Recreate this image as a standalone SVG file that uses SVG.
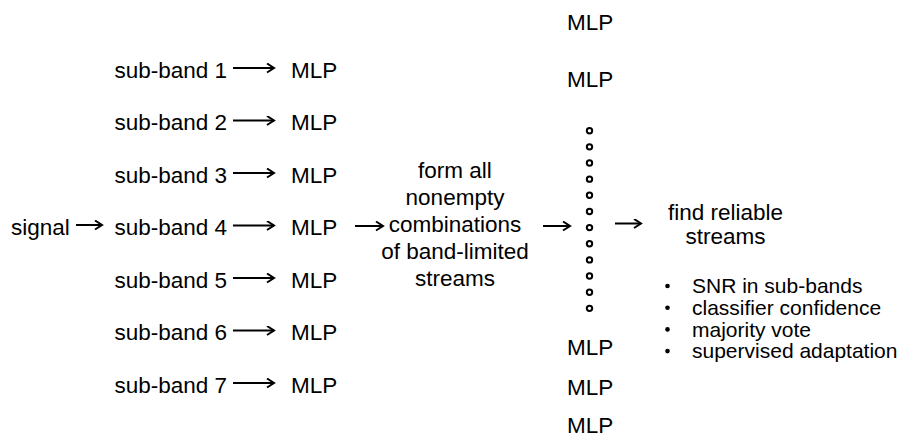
<svg xmlns="http://www.w3.org/2000/svg" width="904" height="436" viewBox="0 0 904 436">
  <style>
    text { font-family: "Liberation Sans", Arial, sans-serif; font-size: 22.5px; fill: #000; }
    .mid { text-anchor: middle; }
    .small { font-size: 21px; }
    .arrow { fill: none; stroke: #000; stroke-width: 2; marker-end: url(#head); }
    .dot { fill: none; stroke: #000; stroke-width: 2; }
  </style>
  <defs>
    <marker id="head" markerUnits="userSpaceOnUse" markerWidth="12" markerHeight="12" refX="8" refY="5" orient="auto">
      <path d="M1,0.5 L8,5 L1,9.5" fill="none" stroke="#000" stroke-width="2"/>
    </marker>
  </defs>

  <!-- input -->
  <g id="signal"><text x="11" y="235">signal</text></g>

  <!-- sub-band labels -->
  <g id="band1"><text x="114.5" y="77.5">sub-band 1</text></g>
  <g id="band2"><text x="114.5" y="130">sub-band 2</text></g>
  <g id="band3"><text x="114.5" y="182.5">sub-band 3</text></g>
  <g id="band4"><text x="114.5" y="235">sub-band 4</text></g>
  <g id="band5"><text x="114.5" y="287.5">sub-band 5</text></g>
  <g id="band6"><text x="114.5" y="340">sub-band 6</text></g>
  <g id="band7"><text x="114.5" y="392.5">sub-band 7</text></g>

  <!-- per-band MLPs -->
  <g id="mlp1"><text x="291" y="77.5">MLP</text></g>
  <g id="mlp2"><text x="291" y="130">MLP</text></g>
  <g id="mlp3"><text x="291" y="182.5">MLP</text></g>
  <g id="mlp4"><text x="291" y="235">MLP</text></g>
  <g id="mlp5"><text x="291" y="287.5">MLP</text></g>
  <g id="mlp6"><text x="291" y="340">MLP</text></g>
  <g id="mlp7"><text x="291" y="392.5">MLP</text></g>

  <!-- combination step -->
  <g id="combine">
    <text class="mid" x="455" y="178">form all</text>
    <text class="mid" x="455" y="205">nonempty</text>
    <text class="mid" x="455" y="232">combinations</text>
    <text class="mid" x="455" y="259">of band-limited</text>
    <text class="mid" x="455" y="286">streams</text>
  </g>

  <!-- combination MLP column -->
  <g id="combo-mlps">
    <text x="567" y="30">MLP</text>
    <text x="567" y="86.7">MLP</text>
    <text x="567" y="355">MLP</text>
    <text x="567" y="394.5">MLP</text>
    <text x="567" y="432.5">MLP</text>
  </g>
  <g id="ellipsis">
    <circle class="dot" cx="589.5" cy="130.7" r="2.7"/>
    <circle class="dot" cx="589.5" cy="146.85" r="2.7"/>
    <circle class="dot" cx="589.5" cy="163" r="2.7"/>
    <circle class="dot" cx="589.5" cy="179.15" r="2.7"/>
    <circle class="dot" cx="589.5" cy="195.3" r="2.7"/>
    <circle class="dot" cx="589.5" cy="211.45" r="2.7"/>
    <circle class="dot" cx="589.5" cy="227.6" r="2.7"/>
    <circle class="dot" cx="589.5" cy="243.75" r="2.7"/>
    <circle class="dot" cx="589.5" cy="259.9" r="2.7"/>
    <circle class="dot" cx="589.5" cy="276.05" r="2.7"/>
    <circle class="dot" cx="589.5" cy="292.2" r="2.7"/>
    <circle class="dot" cx="589.5" cy="308.35" r="2.7"/>
  </g>

  <!-- selection step -->
  <g id="select">
    <text class="mid" x="725.5" y="219.5">find reliable</text>
    <text class="mid" x="725.5" y="244">streams</text>
  </g>
  <g id="criteria">
    <circle cx="667.5" cy="286" r="2.3"/>
    <circle cx="667.5" cy="307.7" r="2.3"/>
    <circle cx="667.5" cy="329.4" r="2.3"/>
    <circle cx="667.5" cy="351.1" r="2.3"/>
    <text class="small" x="692" y="293.3">SNR in sub-bands</text>
    <text class="small" x="692" y="315">classifier confidence</text>
    <text class="small" x="692" y="336.7">majority vote</text>
    <text class="small" x="692" y="358.4">supervised adaptation</text>
  </g>

  <!-- connectors -->
  <g id="connectors">
    <path class="arrow" d="M76,225 H102"/>
    <path class="arrow" d="M233,68 H274"/>
    <path class="arrow" d="M233,120.5 H274"/>
    <path class="arrow" d="M233,173 H274"/>
    <path class="arrow" d="M233,225.5 H274"/>
    <path class="arrow" d="M233,278 H274"/>
    <path class="arrow" d="M233,330.5 H274"/>
    <path class="arrow" d="M233,383 H274"/>
    <path class="arrow" d="M355,226 H383"/>
    <path class="arrow" d="M543,226 H570"/>
    <path class="arrow" d="M615,223.5 H641"/>
  </g>
</svg>
